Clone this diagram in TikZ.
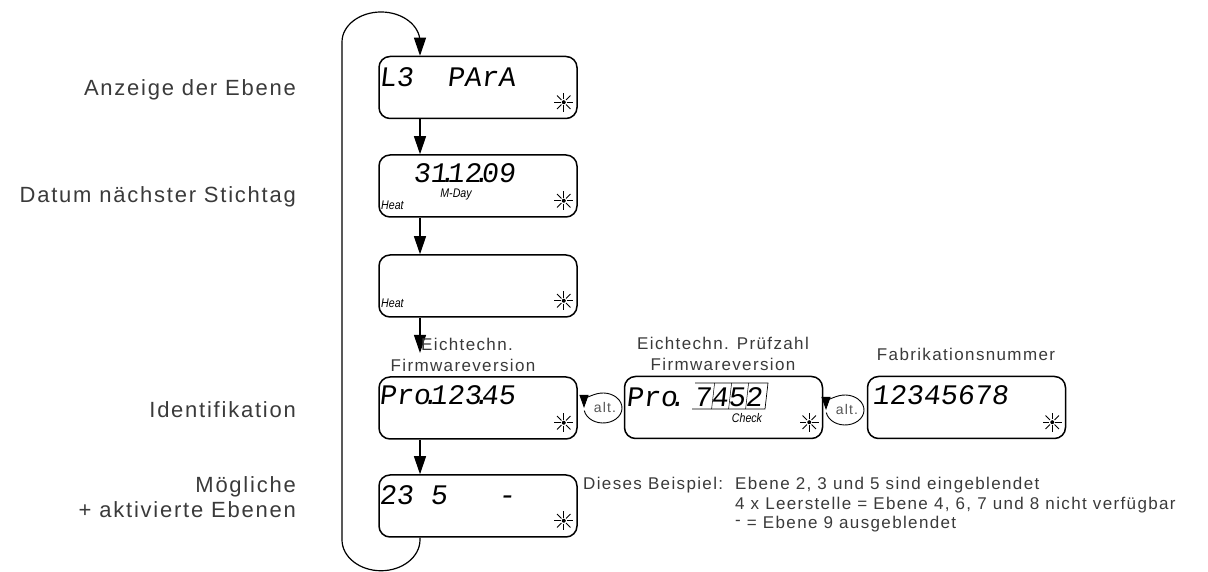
\documentclass[tikz,border=0pt]{standalone}
\usepackage{fontspec}
\setmainfont{Liberation Sans}[LetterSpace=8]
\newfontfamily\lcdfont{Liberation Mono}[FakeSlant=0.12]
\newfontfamily\smallit{Liberation Sans}[FakeStretch=0.85]
\usetikzlibrary{arrows.meta}
\definecolor{txt}{HTML}{3A3A3A}
\definecolor{altgray}{HTML}{555555}
\newcommand\lcdblank{\phantom{0}}
\newcommand\lcddot{\makebox[0pt]{.}}
\begin{document}
\begin{tikzpicture}[x=1pt,y=1pt]
\tikzset{
 lcd/.style={draw, line width=1.5pt, rounded corners=11pt, minimum width=198pt, minimum height=62pt, inner sep=0pt},
 lcdtxt/.style={anchor=base west, inner sep=0pt, font={\lcdfont\fontsize{28.3}{28.3}\selectfont}},
 flow/.style={line width=1.2pt, -{Triangle[width=12pt,length=18pt]}},
 altarr/.style={line width=0.9pt, -{Triangle[width=9pt,length=13pt]}},
 lab/.style={font={\fontsize{22}{25}\selectfont}, text=txt, inner sep=0pt},
 captxt/.style={font={\fontsize{17}{21}\selectfont}, text=txt, align=center, inner sep=0pt},
 ital/.style={font={\smallit\itshape\fontsize{12.5}{12.5}\selectfont}, inner sep=0pt},
 alttxt/.style={font={\fontsize{14}{14}\selectfont}, text=altgray, inner sep=0pt},
 pics/lcdsun/.style={code={\fill (0,0) circle (2); \foreach \a in {0,45,...,315} \draw[line width=1pt] (\a:3.2) -- (\a:9.5);}},
}
\useasboundingbox (0,0) rectangle (1208,572);

% displays
\node[lcd] (b1) at (478,484.5) {};
\node[lcd] (b2) at (478,386) {};
\node[lcd] (b3) at (478,286) {};
\node[lcd] (b4) at (478,164) {};
\node[lcd] (b4m) at (723.5,164.5) {};
\node[lcd] (b4r) at (966.5,164.5) {};
\node[lcd] (b5) at (478,66) {};

% LCD contents
\node[lcdtxt] (t1) at (379,485) {L3\lcdblank\lcdblank PArA};
\node[lcdtxt] (t2) at (379,389) {\lcdblank\lcdblank 31\lcddot 12\lcddot 09};
\node[lcdtxt] (t4) at (379,167) {Pro\lcddot 123\lcddot 45};
\node[lcdtxt] (t4m) at (626,165) {Pro\lcddot\lcdblank 7452};
\node[lcdtxt] (t4r) at (872,167) {12345678};
\node[lcdtxt] (t5) at (379,67) {23\lcdblank 5\lcdblank\lcdblank\lcdblank -};

\node[ital] (md) at (456,377) {M-Day};
\node[ital, anchor=base west] (h2) at (381,362) {Heat};
\node[ital, anchor=base west] (h3) at (381,264) {Heat};
\node[ital] (chk) at (747,154) {Check};

% check frame
\draw[line width=0.7pt] (695,189) -- (768,189) -- (765,163) -- (692,163);
\foreach \x in {712,729,746} \draw[line width=0.5pt] (\x+2.6,189) -- (\x-0.4,163);

% sun symbols
\foreach \b in {b1,b2,b3,b4,b4m,b4r,b5} \pic at ([shift={(-14,17)}]\b.south east) {lcdsun};

% flow arrows
\coordinate (ax) at (420,0);
\coordinate (tip3) at (420,219);
\draw[flow] (b1.south -| ax) -- (b2.north -| ax);
\draw[flow] (b2.south -| ax) -- (b3.north -| ax);
\draw[flow] (b3.south -| ax) -- (tip3);
\draw[flow] (b4.south -| ax) -- (b5.north -| ax);
\draw[flow] (b5.south -| ax) -- ++(0,-2) arc[start angle=0,end angle=-180,x radius=39,y radius=31]
  -- (342,530) arc[start angle=180,end angle=0,x radius=39,y radius=30] -- (b1.north -| ax);

% alternation symbols
\coordinate (c1) at (603,164);
\coordinate (c2) at (845,162);
\draw[altarr] ([shift={(190:19 and 15)}]c1) arc[start angle=190,end angle=540,x radius=19,y radius=15];
\draw[altarr] ([shift={(190:19 and 15)}]c2) arc[start angle=190,end angle=540,x radius=19,y radius=15];
\node[alttxt] (al1) at ([xshift=2pt]c1) {alt.};
\node[alttxt] (al2) at ([xshift=2pt]c2) {alt.};

% left labels
\node[lab, anchor=east] (l1) at (296,482) {Anzeige der Ebene};
\node[lab, anchor=east] (l2) at (296,375) {Datum nächster Stichtag};
\node[lab, anchor=east] (l3) at (296,162) {Identifikation};
\node[lab, anchor=east, align=right] (l4) at (296,75) {Mögliche\\+ aktivierte Ebenen};

% captions
\node[captxt] (k1) at (463,217) {\hspace*{8pt}Eichtechn.\\Firmwareversion};
\node[captxt] (k2) at (723,218.5) {Eichtechn. Prüfzahl\\Firmwareversion};
\node[captxt] (k3) at (966,218) {Fabrikationsnummer};

% example text
\node[anchor=base west, inner sep=0pt, font={\fontsize{17}{19.5}\selectfont}, text=txt] (ex) at (583,82)
 {\begin{tabular}[t]{@{}l@{}l@{}}\makebox[152pt][l]{Dieses Beispiel:} & Ebene 2, 3 und 5 sind eingeblendet\\
  & 4 x Leerstelle = Ebene 4, 6, 7 und 8 nicht verfügbar\\
  & \raisebox{3pt}{-} = Ebene 9 ausgeblendet\end{tabular}};
\end{tikzpicture}
\end{document}
